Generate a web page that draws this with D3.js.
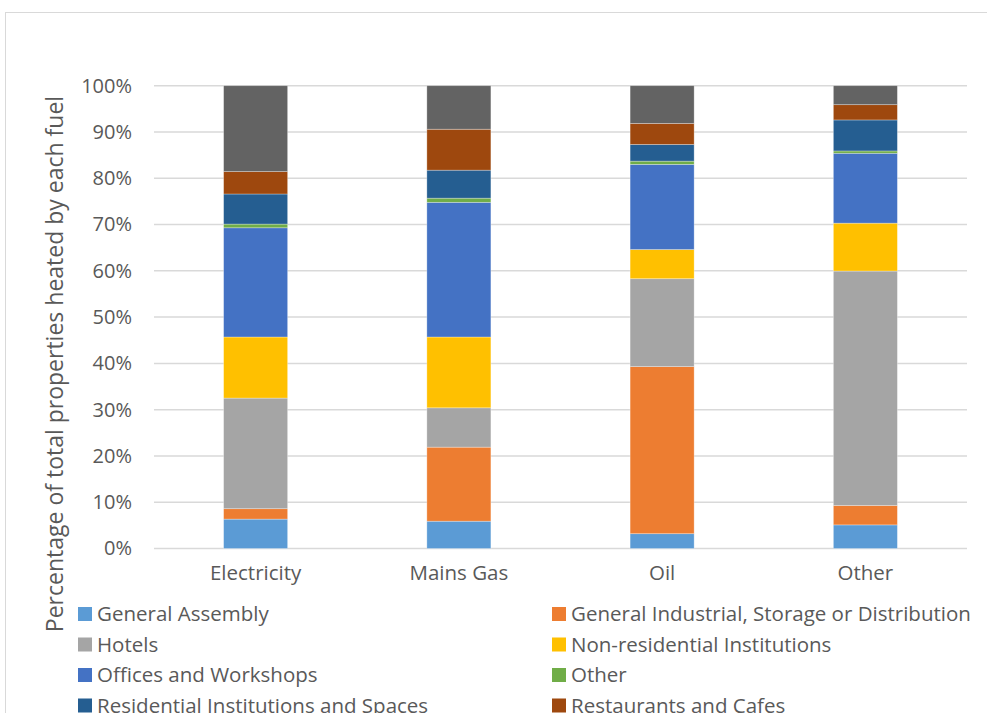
<!DOCTYPE html>
<html>
<head>
<meta charset="utf-8">
<script src="https://cdn.jsdelivr.net/npm/d3@7"></script>
<style>
  html, body { margin: 0; padding: 0; background: #fff; }
  svg { display: block; }
  text { font-family: "Open Sans", sans-serif; fill: #595959; }
</style>
</head>
<body>
<svg id="chart" width="987" height="713"></svg>
<script>
const fuels = ["Electricity", "Mains Gas", "Oil", "Other"];
const seriesNames = [
  "General Assembly",
  "General Industrial, Storage or Distribution",
  "Hotels",
  "Non-residential Institutions",
  "Offices and Workshops",
  "Other",
  "Residential Institutions and Spaces",
  "Restaurants and Cafes",
  "Retail"
];
const generalAssembly   = [6.35, 5.9, 3.2, 5.1];
const generalIndustrial = [2.25, 16.0, 36.1, 4.2];
const hotels            = [23.9, 8.5, 19.0, 50.65];
const nonResidential    = [13.2, 15.3, 6.3, 10.35];
const offices           = [23.6, 29.1, 18.4, 15.1];
const otherUse          = [0.8, 0.9, 0.7, 0.5];
const residential       = [6.5, 6.05, 3.6, 6.7];
const restaurants       = [4.85, 8.85, 4.55, 3.3];
const retail            = [18.55, 9.4, 8.15, 4.1];
const seriesValues = [generalAssembly, generalIndustrial, hotels, nonResidential, offices, otherUse, residential, restaurants, retail];
const colors = ["#5B9BD5", "#ED7D31", "#A5A5A5", "#FFC000", "#4472C4", "#70AD47", "#255E91", "#9E480E", "#636363"];
const yTicks = [0, 0.1, 0.2, 0.3, 0.4, 0.5, 0.6, 0.7, 0.8, 0.9, 1.0];
const legendShown = 8; // the reference crops the legend after four rows

const svg = d3.select("#chart");

// chart border
svg.append("rect").attr("x", 5.5).attr("y", 12.5).attr("width", 1000).attr("height", 760)
  .attr("fill", "none").attr("stroke", "#d9d9d9").attr("stroke-width", 1);

const rows = fuels.map((f, i) => {
  const o = { fuel: f };
  seriesNames.forEach((s, j) => o[s] = seriesValues[j][i]);
  return o;
});
const stack = d3.stack().keys(seriesNames).offset(d3.stackOffsetExpand);
const stacked = stack(rows);

const x = d3.scaleBand().domain(fuels).range([154, 967]).paddingInner(0.685).paddingOuter(0.3425);
const y = d3.scaleLinear().domain([0, 1]).range([548.5, 85.7]);

// gridlines
svg.append("g").selectAll("line").data(yTicks).join("line")
  .attr("x1", 154).attr("x2", 967)
  .attr("y1", d => y(d)).attr("y2", d => y(d))
  .attr("stroke", "#d9d9d9").attr("stroke-width", 1.5);

// y axis labels
const yAxis = d3.axisLeft(y).tickValues(yTicks).tickFormat(d3.format(".0%")).tickSize(0).tickPadding(0);
const yg = svg.append("g").attr("transform", "translate(132,0)").call(yAxis);
yg.select(".domain").remove();
yg.selectAll("text").attr("font-size", 20).attr("fill", "#595959").attr("font-family", "Open Sans, sans-serif");

// bars
svg.append("g").selectAll("g").data(stacked).join("g")
  .attr("fill", (d, i) => colors[i])
  .selectAll("rect").data(d => d).join("rect")
  .attr("x", d => x(d.data.fuel))
  .attr("width", x.bandwidth())
  .attr("y", d => y(d[1]))
  .attr("height", d => y(d[0]) - y(d[1]))
  .attr("stroke", "#ffffff").attr("stroke-opacity", 0.4).attr("stroke-width", 0.75);

// x axis labels
const xAxis = d3.axisBottom(x).tickSize(0).tickPadding(0);
const xg = svg.append("g").attr("transform", "translate(0,565)").call(xAxis);
xg.select(".domain").remove();
xg.selectAll("text").attr("font-size", 20.5).attr("fill", "#595959").attr("font-family", "Open Sans, sans-serif");

// y title
svg.append("text")
  .attr("transform", "translate(63,364) rotate(-90)")
  .attr("text-anchor", "middle")
  .attr("font-size", 23)
  .text("Percentage of total properties heated by each fuel");

// legend
const legend = svg.append("g");
seriesNames.slice(0, legendShown).forEach((s, i) => {
  const col = i % 2, row = Math.floor(i / 2);
  const lx = col === 0 ? 78 : 552;
  const ly = 614 + row * 30.5;
  const g = legend.append("g").attr("transform", `translate(${lx},${ly})`);
  g.append("rect").attr("x", 0).attr("y", -7).attr("width", 14).attr("height", 14).attr("fill", colors[i]);
  g.append("text").attr("x", 19).attr("y", 0).attr("dy", "0.35em").attr("font-size", 20.5).text(s);
});
</script>
</body>
</html>
